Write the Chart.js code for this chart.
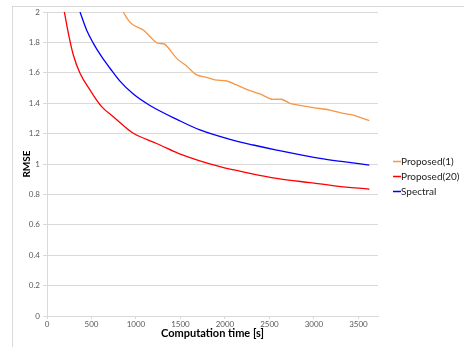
<!DOCTYPE html>
<html>
<head>
<meta charset="utf-8">
<script src="https://cdn.jsdelivr.net/npm/chart.js@4.4.1/dist/chart.umd.min.js"></script>
<style>
  html, body { margin: 0; padding: 0; background: #fff; }
  #wrap { position: relative; width: 464px; height: 347px; overflow: hidden; }
  #frame { position: absolute; left: 12px; top: 6px; width: 470px; height: 360px;
           border-top: 1px solid #d9d9d9; border-left: 1px solid #d9d9d9; }
  #chart { position: absolute; left: 0; top: 0; }
</style>
</head>
<body>
<div id="wrap">
  <div id="frame"></div>
  <canvas id="chart" width="464" height="347"></canvas>
</div>
<script>
// values (time [s] -> RMSE)
const seriesNames = ['Proposed(1)', 'Proposed(20)', 'Spectral'];
const seriesColors = ['#F79646', '#FF0000', '#0000FF'];

const prop1Time = [857, 914, 970, 1082, 1232, 1326, 1457, 1569, 1682, 1794, 1888, 2019, 2131, 2244, 2393, 2525, 2637, 2730, 2843, 2992, 3180, 3330, 3442, 3622];
const prop1Rmse = [2.0, 1.947, 1.914, 1.882, 1.798, 1.787, 1.695, 1.645, 1.586, 1.57, 1.553, 1.546, 1.52, 1.491, 1.461, 1.426, 1.426, 1.399, 1.386, 1.371, 1.355, 1.333, 1.322, 1.285];

const prop20Time = [195, 240, 296, 371, 483, 614, 745, 970, 1120, 1270, 1476, 1944, 2281, 2581, 2955, 3255, 3622];
const prop20Rmse = [2.0, 1.86, 1.717, 1.597, 1.487, 1.377, 1.311, 1.202, 1.162, 1.125, 1.07, 0.982, 0.939, 0.906, 0.877, 0.855, 0.834];

const spectralTime = [371, 446, 521, 614, 708, 820, 970, 1157, 1476, 1719, 2056, 2318, 2581, 3067, 3330, 3622];
const spectralRmse = [2.0, 1.88, 1.794, 1.706, 1.63, 1.545, 1.46, 1.385, 1.289, 1.224, 1.162, 1.125, 1.092, 1.037, 1.015, 0.993];

const xTicks = [0, 500, 1000, 1500, 2000, 2500, 3000, 3500];

const FONT = "Lato, 'Liberation Sans', sans-serif";
const GRID = '#d9d9d9';
const TICK_TEXT = '#595959';

function pts(xs, ys) { return xs.map((x, i) => ({ x, y: ys[i] })); }

// legend drawn at the fixed Excel position, right of the plot
const sideLegend = {
  id: 'sideLegend',
  afterDraw(chart) {
    const ctx = chart.ctx;
    ctx.save();
    ctx.font = '10px ' + FONT;
    ctx.textBaseline = 'middle';
    chart.data.datasets.forEach((ds, i) => {
      const y = 161.5 + i * 15;
      ctx.strokeStyle = ds.borderColor;
      ctx.lineWidth = 1.5;
      ctx.beginPath();
      ctx.moveTo(393, y);
      ctx.lineTo(401, y);
      ctx.stroke();
      ctx.fillStyle = '#222';
      ctx.fillText(ds.label, 401, y + 0.5);
    });
    ctx.restore();
  }
};

const datasets = [
  { label: seriesNames[0], data: pts(prop1Time, prop1Rmse), tension: 0.3 },
  { label: seriesNames[1], data: pts(prop20Time, prop20Rmse), cubicInterpolationMode: 'monotone' },
  { label: seriesNames[2], data: pts(spectralTime, spectralRmse), cubicInterpolationMode: 'monotone' }
].map((d, i) => ({
  ...d,
  borderColor: seriesColors[i],
  backgroundColor: seriesColors[i],
  borderWidth: 1.3,
  pointRadius: 0,
  fill: false
}));

new Chart(document.getElementById('chart'), {
  type: 'line',
  data: { datasets },
  plugins: [sideLegend],
  options: {
    responsive: false,
    animation: false,
    layout: { padding: { left: 0, top: 12, right: 86, bottom: 0 } },
    plugins: { legend: { display: false }, tooltip: { enabled: false } },
    scales: {
      x: {
        type: 'linear',
        min: 0,
        max: 3720,
        afterFit: s => { s.height = 31; },
        afterBuildTicks: s => { s.ticks = xTicks.map(v => ({ value: v })); },
        grid: { drawOnChartArea: false, drawTicks: true, tickLength: 3, color: GRID },
        border: { color: GRID },
        ticks: { font: { family: FONT, size: 8 }, color: TICK_TEXT, padding: 1, maxRotation: 0,
                 callback: v => String(v) },
        title: { display: true, text: 'Computation time [s]', color: '#000',
                 font: { family: FONT, size: 11, weight: 'bold' }, padding: { top: 0, bottom: 7 } }
      },
      y: {
        min: 0,
        max: 2,
        afterFit: s => { s.width = 47; },
        grid: { color: GRID, tickLength: 4 },
        border: { color: GRID },
        ticks: { stepSize: 0.2, font: { family: FONT, size: 8 }, color: TICK_TEXT, padding: 3,
                 callback: v => String(+v.toFixed(1)) },
        title: { display: true, text: 'RMSE', color: '#000',
                 font: { family: FONT, size: 10, weight: 'bold' }, padding: { top: 21, bottom: 0 } }
      }
    }
  }
});
</script>
</body>
</html>
